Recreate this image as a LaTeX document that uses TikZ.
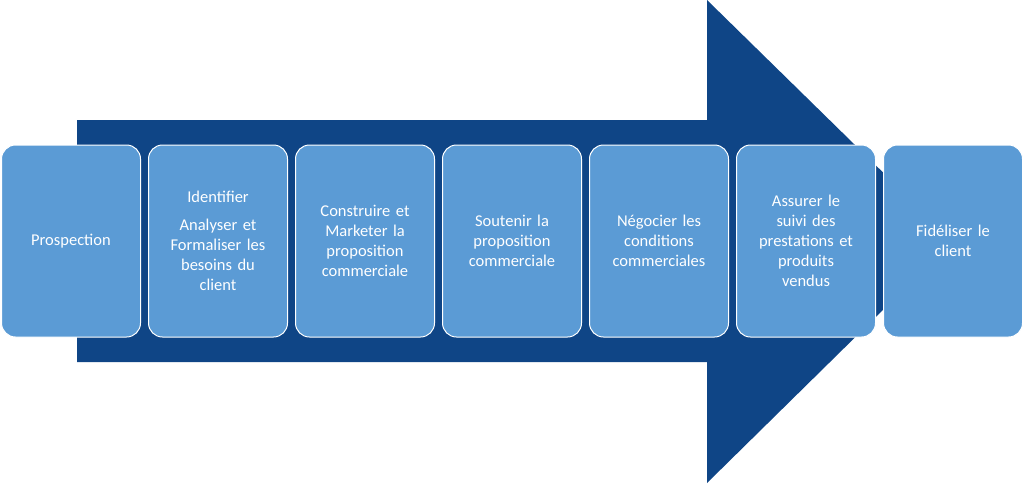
\documentclass[tikz,border=0pt]{standalone}
\usepackage{fontspec}
\setmainfont{Carlito}
\definecolor{arr}{HTML}{0F4586}
\definecolor{box}{HTML}{5B9BD5}
\begin{document}
\begin{tikzpicture}[x=1pt,y=-1pt,
  stepbox/.style={draw=white,line width=1pt,fill=box,rounded corners=14pt,minimum width=139pt,minimum height=192pt,inner sep=0pt,
    text=white,align=center,font=\fontsize{16.5}{20}\selectfont,text width=130pt}]
\useasboundingbox (0,0) rectangle (1024,483);
\fill[arr] (77,120) -- (707,120) -- (707,0) -- (953,241) -- (707,483) -- (707,362) -- (77,362) -- cycle;
\node[stepbox] (s1) at (71,241) {Prospection};
\node[stepbox] (s2) at (218,241) {Identifier\\[8pt]Analyser et\\Formaliser les\\besoins du\\client};
\node[stepbox] (s3) at (365,241) {Construire et\\Marketer la\\proposition\\commerciale};
\node[stepbox] (s4) at (512,241) {Soutenir la\\proposition\\commerciale};
\node[stepbox] (s5) at (659,241) {Négocier les\\conditions\\commerciales};
\node[stepbox] (s6) at (806,241) {Assurer le\\suivi des\\prestations et\\produits\\vendus};
\node[stepbox] (s7) at (953,241) {Fidéliser le\\client};
\end{tikzpicture}
\end{document}
